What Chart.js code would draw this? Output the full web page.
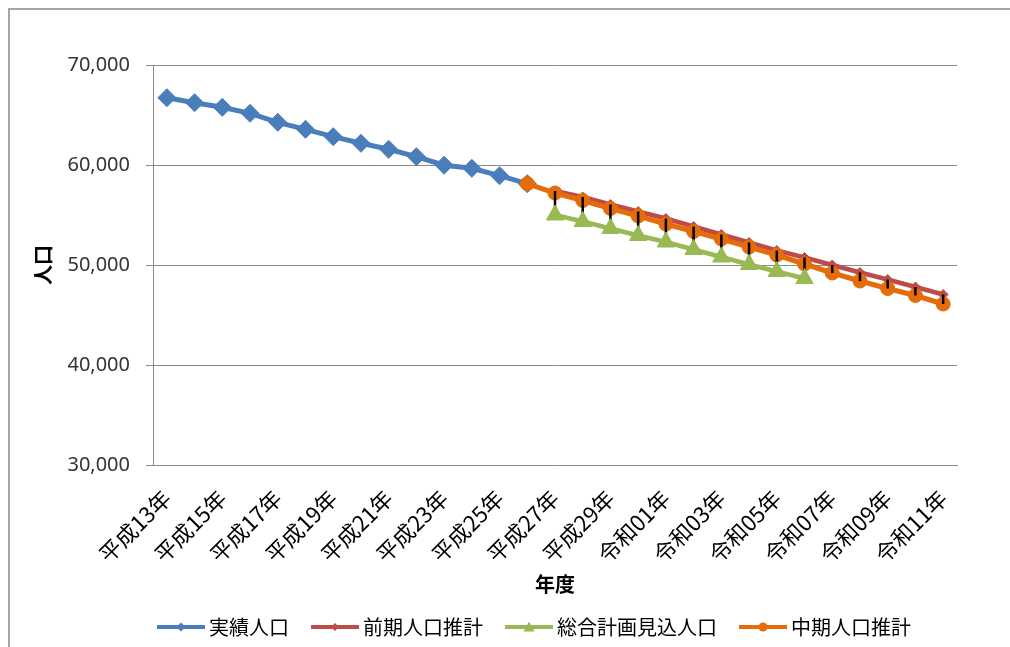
<!DOCTYPE html>
<html>
<head>
<meta charset="utf-8">
<script src="https://cdn.jsdelivr.net/npm/chart.js@4.4.1/dist/chart.umd.min.js"></script>
<style>
  html, body { margin: 0; padding: 0; background: #fff; overflow: hidden; }
  #wrap { position: relative; width: 1010px; height: 647px; overflow: hidden; }
  #frame { position: absolute; left: 8px; top: 8px; width: 1100px; height: 700px;
           border: 2px solid #a6a6a6; box-sizing: border-box; }
  canvas { position: absolute; left: 0; top: 0; }
</style>
</head>
<body>
<div id="wrap">
  <div id="frame"></div>
  <canvas id="chart" width="1064" height="647"></canvas>
</div>
<script>
// 年度
const years = [
  '平成13年', '平成14年', '平成15年', '平成16年', '平成17年', '平成18年', '平成19年',
  '平成20年', '平成21年', '平成22年', '平成23年', '平成24年', '平成25年', '平成26年',
  '平成27年', '平成28年', '平成29年', '平成30年', '令和01年', '令和02年', '令和03年',
  '令和04年', '令和05年', '令和06年', '令和07年', '令和08年', '令和09年', '令和10年',
  '令和11年'
];

// 実績人口
const actual = [
  66730, 66230, 65770, 65170, 64270, 63570, 62830, 62170, 61570, 60830,
  59980, 59670, 58930, 58130,
  null, null, null, null, null, null, null, null, null, null, null, null, null, null, null
];

// 前期人口推計
const prevEstimate = [
  null, null, null, null, null, null, null, null, null, null, null, null, null, null,
  57400, 56800, 56050, 55350, 54650, 53850, 53050, 52250, 51450, 50750,
  50000, 49250, 48550, 47800, 47050
];

// 総合計画見込人口
const planEstimate = [
  null, null, null, null, null, null, null, null, null, null, null, null, null, null,
  55000, 54350, 53650, 52950, 52300, 51550, 50800, 50050, 49350, 48650,
  null, null, null, null, null
];

// 中期人口推計
const midEstimate = [
  null, null, null, null, null, null, null, null, null, null, null, null, null,
  58130, 57200, 56450, 55650, 54900, 54100, 53350, 52600, 51800, 51000, 50100,
  49200, 48400, 47650, 46950, 46100
];

const yTicks = [30000, 40000, 50000, 60000, 70000];

const BLUE = '#4A7EBB';
const RED = '#BE4B48';
const GREEN = '#98B954';
const ORANGE = '#E46C0A';
const GRID = '#8a8a8a';
const JP = '"Noto Sans CJK JP", "Noto Sans", sans-serif';

// 凡例用の線+マーカー画像
function legendIcon(color, style, r) {
  const c = document.createElement('canvas');
  c.width = 52; c.height = 16;
  const g = c.getContext('2d');
  g.strokeStyle = color; g.lineWidth = 4; g.lineCap = 'butt';
  g.beginPath(); g.moveTo(2, 8); g.lineTo(50, 8); g.stroke();
  g.fillStyle = color;
  g.beginPath();
  if (style === 'diamond') {
    g.moveTo(26, 8 - r); g.lineTo(26 + r, 8); g.lineTo(26, 8 + r); g.lineTo(26 - r, 8);
  } else if (style === 'triangle') {
    g.moveTo(26, 8 - r); g.lineTo(26 + r, 8 + r * 0.8); g.lineTo(26 - r, 8 + r * 0.8);
  } else {
    g.arc(26, 8, r, 0, Math.PI * 2);
  }
  g.closePath(); g.fill();
  return c;
}
const icons = [
  legendIcon(BLUE, 'diamond', 4.5),
  legendIcon(RED, 'diamond', 4),
  legendIcon(GREEN, 'triangle', 5.5),
  legendIcon(ORANGE, 'circle', 4.5)
];

// 高低線（各年度の最大値と最小値を結ぶ）
const highLowLines = {
  id: 'highLowLines',
  afterDatasetDraw(chart, args) {
    if (args.index !== 3) return;
    const { ctx, scales: { x, y } } = chart;
    ctx.save();
    ctx.strokeStyle = '#000';
    ctx.lineWidth = 2.5;
    years.forEach((_, i) => {
      const vals = chart.data.datasets.map(d => d.data[i]).filter(v => v != null);
      if (vals.length < 2) return;
      const hi = Math.max(...vals), lo = Math.min(...vals);
      if (hi === lo) return;
      const px = x.getPixelForValue(i);
      ctx.beginPath();
      ctx.moveTo(px, y.getPixelForValue(hi));
      ctx.lineTo(px, y.getPixelForValue(lo));
      ctx.stroke();
    });
    ctx.restore();
  }
};

new Chart(document.getElementById('chart'), {
  type: 'line',
  data: {
    labels: years,
    datasets: [
      { label: '実績人口', data: actual, borderColor: BLUE, backgroundColor: BLUE,
        borderWidth: 5, pointStyle: 'rectRot', pointRadius: 9, pointBorderWidth: 1, order: 4 },
      { label: '前期人口推計', data: prevEstimate, borderColor: RED, backgroundColor: RED,
        borderWidth: 4.5, pointStyle: 'rectRot', pointRadius: 5, pointBorderWidth: 1, order: 3 },
      { label: '総合計画見込人口', data: planEstimate, borderColor: GREEN, backgroundColor: GREEN,
        borderWidth: 4.5, pointStyle: 'triangle', pointRadius: 10, pointBorderWidth: 1, order: 0 },
      { label: '中期人口推計', data: midEstimate, borderColor: ORANGE, backgroundColor: ORANGE,
        borderWidth: 5, pointStyle: 'circle', pointRadius: 7, pointBorderWidth: 1, order: 1 }
    ]
  },
  plugins: [highLowLines],
  options: {
    responsive: false,
    animation: false,
    devicePixelRatio: 1,
    layout: { padding: { left: 10, right: 0, top: 65, bottom: 0 } },
    plugins: {
      tooltip: { enabled: false },
      legend: {
        position: 'bottom',
        labels: {
          usePointStyle: true,
          pointStyleWidth: 36,
          padding: 28,
          color: '#000',
          font: { family: JP, size: 20 },
          sort: (a, b) => a.datasetIndex - b.datasetIndex,
          generateLabels(chart) {
            const items = Chart.defaults.plugins.legend.labels.generateLabels(chart);
            items.forEach(it => { it.pointStyle = icons[it.datasetIndex]; });
            return items;
          }
        }
      }
    },
    scales: {
      x: {
        offset: true,
        grid: { display: false },
        border: { display: true, color: GRID, width: 1 },
        ticks: {
          autoSkip: false,
          minRotation: 45,
          maxRotation: 45,
          padding: 12,
          color: '#000',
          font: { family: JP, size: 22 },
          callback: (v, i) => (i % 2 === 0 ? years[i] : '')
        },
        title: {
          display: true, text: '年度', color: '#000',
          font: { family: JP, size: 20, weight: 'bold' },
          padding: { top: 0, bottom: -7 }
        },
        afterFit(scale) { scale.height = 124; }
      },
      y: {
        min: 30000,
        max: 70000,
        afterBuildTicks(scale) { scale.ticks = yTicks.map(v => ({ value: v })); },
        grid: { color: GRID, lineWidth: 1, tickLength: 7, drawTicks: true },
        border: { display: true, color: GRID, width: 1 },
        ticks: {
          padding: 16,
          color: '#333',
          font: { family: '"Noto Sans", sans-serif', size: 20 },
          callback: v => v.toLocaleString('en-US')
        },
        title: {
          display: true, text: '人口', color: '#000',
          font: { family: JP, size: 20, weight: 'bold' },
          padding: { top: 21, bottom: 0 }
        },
        afterFit(scale) { scale.width = 143; }
      },
      // 右側の余白（凡例の中心位置を合わせるための空の軸）
      spacer: {
        position: 'right',
        display: true,
        grid: { display: false },
        border: { display: false },
        ticks: { display: false },
        afterFit(scale) { scale.width = 107; }
      }
    }
  }
});
</script>
</body>
</html>
